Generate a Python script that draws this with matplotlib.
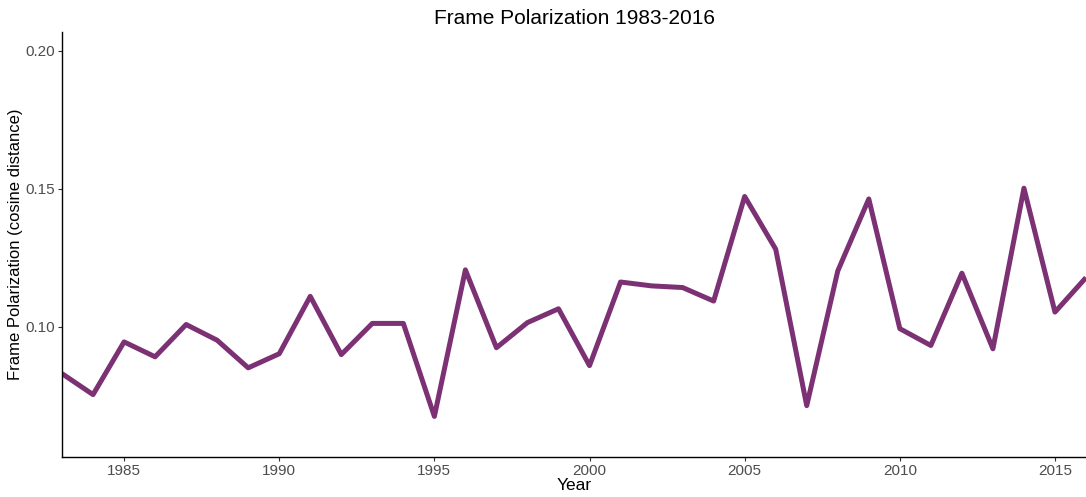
import matplotlib
matplotlib.use("Agg")
import matplotlib.pyplot as plt

years = list(range(1983, 2017))
polarization = [
    0.0830, 0.0754, 0.0945, 0.0891, 0.1008, 0.0951, 0.0851, 0.0902, 0.1110, 0.0899,
    0.1012, 0.1012, 0.0675, 0.1206, 0.0924, 0.1015, 0.1065, 0.0859, 0.1162, 0.1148,
    0.1142, 0.1093, 0.1472, 0.1281, 0.0714, 0.1202, 0.1463, 0.0993, 0.0932, 0.1194,
    0.0920, 0.1502, 0.1053, 0.1178,
]
x_ticks = [1985, 1990, 1995, 2000, 2005, 2010, 2015]
y_ticks = [0.10, 0.15, 0.20]

plt.rcParams['font.family'] = ['Liberation Sans', 'DejaVu Sans']

fig = plt.figure(figsize=(10.86, 4.97), dpi=100)
ax = fig.add_axes([0.0571, 0.0811, 0.9429, 0.8545])

ax.plot(years, polarization, color="#7b3174", linewidth=3.6,
        solid_joinstyle="round", solid_capstyle="butt")

ax.set_xlim(1983, 2016)
ax.set_ylim(0.0529, 0.2068)
ax.set_xticks(x_ticks)
ax.set_yticks(y_ticks)
ax.set_yticklabels([f"{v:.2f}" for v in y_ticks])

for side in ["top", "right"]:
    ax.spines[side].set_visible(False)
for side in ["left", "bottom"]:
    ax.spines[side].set_linewidth(1.0)
    ax.spines[side].set_color("black")

ax.tick_params(axis="both", length=3, width=0.8, color="#333333",
               labelcolor="#4d4d4d", labelsize=11, pad=2)

ax.set_title("Frame Polarization 1983-2016", fontsize=15, pad=6)
ax.set_xlabel("Year", fontsize=12.5, labelpad=0)
ax.set_ylabel("Frame Polarization (cosine distance)", fontsize=12)
ax.yaxis.set_label_coords(-0.038, 0.5)

fig.savefig("out.png", dpi=100)
